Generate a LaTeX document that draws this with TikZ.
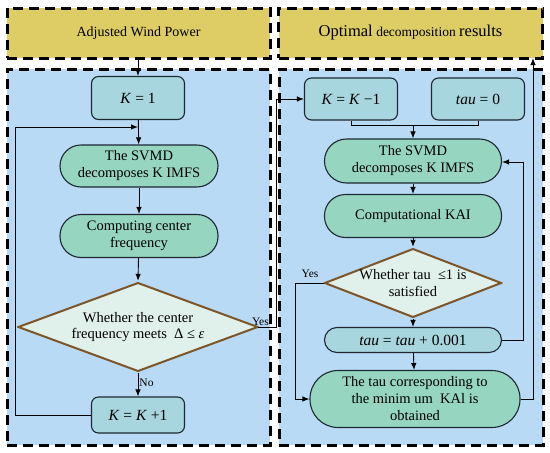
\documentclass[tikz,border=0pt]{standalone}
\usepackage{fontspec}
\setmainfont{Liberation Serif}
\usetikzlibrary{arrows.meta}
\definecolor{ybox}{RGB}{222,204,100}
\definecolor{bbg}{RGB}{184,218,244}
\definecolor{kbox}{RGB}{168,214,222}
\definecolor{gbox}{RGB}{150,214,192}
\definecolor{dfill}{RGB}{224,240,234}
\definecolor{brown}{RGB}{125,85,40}
\definecolor{edge}{RGB}{30,40,50}
\tikzset{
  x=1pt,y=-1pt,
  panel/.style={draw=black,line width=3pt,dash pattern=on 10pt off 6pt,inner sep=0pt},
  ypanel/.style={panel,fill=ybox,font=\fontsize{14}{16}\selectfont},
  bpanel/.style={panel,fill=bbg},
  kstyle/.style={draw=edge,line width=1.1pt,fill=kbox,rounded corners=7pt,inner sep=0pt,font=\fontsize{15.5}{18}\selectfont,align=center},
  gstyle/.style={draw=edge,line width=1.1pt,fill=gbox,inner sep=0pt,font=\fontsize{14.5}{17}\selectfont,align=center},
  dstyle/.style={inner sep=0pt,font=\fontsize{14.5}{16.5}\selectfont,align=center,
    path picture={\draw[draw=brown,line width=2pt,fill=dfill]
      ([yshift=-1pt]path picture bounding box.north) -- ([xshift=-1.4pt]path picture bounding box.east) --
      ([yshift=1pt]path picture bounding box.south) -- ([xshift=1.4pt]path picture bounding box.west) -- cycle;}},
  conn/.style={draw=black,line width=0.9pt},
  arr/.style={conn,-{Latex[length=7pt,width=5.5pt]}},
  lab/.style={font=\fontsize{11.5}{13}\selectfont,inner sep=1pt}
}
\begin{document}
\begin{tikzpicture}
\useasboundingbox (0,0) rectangle (550,453);
% panels
\node[ypanel,minimum width=263pt,minimum height=50pt] (yl) at (138.5,33) {Adjusted Wind Power};
\node[ypanel,minimum width=264pt,minimum height=50pt] (yr) at (410.5,33) {{\fontsize{16.5}{18}\selectfont Optimal} {\fontsize{13.5}{15}\selectfont decomposition} {\fontsize{16.5}{18}\selectfont results}};
\node[bpanel,minimum width=263pt,minimum height=376pt] (bl) at (138.5,257) {};
\node[bpanel,minimum width=264pt,minimum height=376pt] (br) at (411,257) {};
% left column
\node[kstyle,minimum width=93pt,minimum height=43pt] (k1) at (138,98) {\textit{K} = 1};
\node[gstyle,rounded corners=21pt,minimum width=158pt,minimum height=42pt] (svl) at (139,166) {The SVMD\\decomposes K IMFS};
\node[gstyle,rounded corners=21pt,minimum width=158pt,minimum height=43pt] (cf) at (139,236) {Computing center\\frequency};
\node[dstyle,minimum width=242pt,minimum height=90pt] (dl) at (138,327) {Whether the center\\frequency meets \ Δ ≤ \textit{ε}};
\node[kstyle,minimum width=93pt,minimum height=36pt] (kk1) at (138,415) {\textit{K} = \textit{K} +1};
% right column
\node[kstyle,minimum width=93pt,minimum height=42pt] (km1) at (351,99) {\textit{K} = \textit{K} −1};
\node[kstyle,minimum width=93pt,minimum height=42pt] (t0) at (478,99) {\textit{tau} = 0};
\node[gstyle,rounded corners=22pt,minimum width=177pt,minimum height=44pt] (svr) at (413,161) {The SVMD\\decomposes K IMFS};
\node[gstyle,rounded corners=21pt,minimum width=177pt,minimum height=43pt] (kai) at (413,216) {Computational KAI};
\node[dstyle,minimum width=179pt,minimum height=70pt] (dr) at (413,283) {Whether tau \ ≤1 is\\satisfied};
\node[kstyle,rounded corners=12.5pt,minimum width=177pt,minimum height=25pt] (tinc) at (413,340) {\textit{tau} = \textit{tau} + 0.001};
\node[gstyle,rounded corners=28pt,minimum width=210pt,minimum height=57pt] (fin) at (415,399) {The tau corresponding to\\the minim um \ KAl is\\obtained};
% coordinates
\coordinate (lp) at (15,127);
\coordinate (yx) at (276,99);
\coordinate (br1) at (0,125);
\coordinate (fb) at (523,162);
\coordinate (yb) at (295,283);
\coordinate (ob) at (533,58);
% left connectors
\draw[arr] (yl.south -| k1.north) -- (k1.north);
\draw[arr] (k1) -- (svl);
\draw[arr] (svl) -- (cf);
\draw[arr] (cf) -- ([yshift=1pt]dl.north);
\draw[arr] ([yshift=-1pt]dl.south) -- node[lab,right,pos=0.4]{No} (kk1.north);
\draw[arr] (kk1.west) -- (kk1.west -| lp) -- (lp) -- (lp -| k1.south);
\draw[arr] ([xshift=-1pt]dl.east) -- (dl.east -| yx) -- (yx) -- (km1.west);
\node[lab,anchor=south east] (yesl) at (270,327) {Yes};
% right connectors
\draw[conn] (km1.south) -- (km1.south |- br1) -- (t0.south |- br1) -- (t0.south);
\draw[arr] (svr.north |- br1) -- (svr.north);
\draw[arr] (svr) -- (kai);
\draw[arr] (kai) -- ([yshift=1pt]dr.north);
\draw[arr] ([yshift=-1pt]dr.south) -- (tinc.north);
\draw[arr] (tinc) -- (fin);
\draw[arr] (tinc.east) -- (tinc.east -| fb) -- (fb) -- (svr.east |- fb);
\draw[arr] ([xshift=1pt]dr.west) -- (yb) -- (yb |- fin.west) -- (fin.west);
\node[lab,anchor=south] (yesr) at (310,279) {Yes};
\draw[arr] (fin.east) -- (fin.east -| ob) -- (ob);
\end{tikzpicture}
\end{document}
